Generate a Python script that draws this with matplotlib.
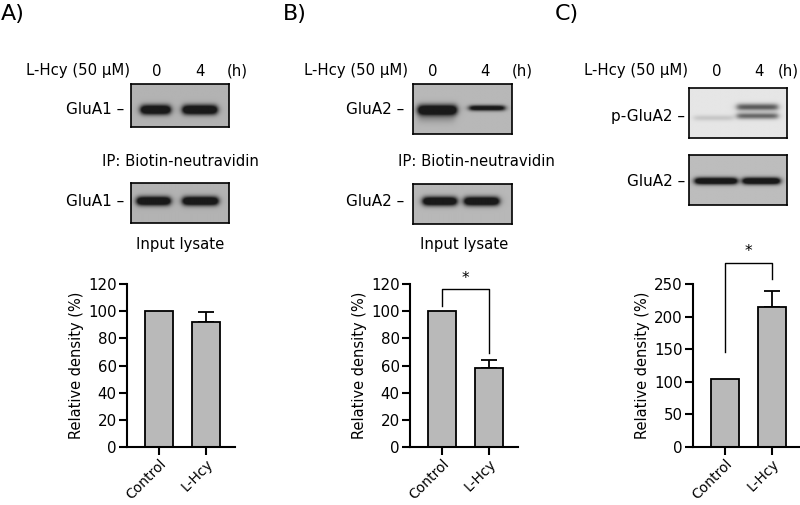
import numpy as np
import matplotlib
matplotlib.use("Agg")
import matplotlib.pyplot as plt

plt.rcParams['font.family'] = ['DejaVu Sans']

W, H = 800, 505

# ---------------- data ----------------
groups = ["Control", "L-Hcy"]
a_values = [100, 92]
a_errors = [0, 7.3]
b_values = [100, 58]
b_errors = [0, 6]
c_values = [104, 214]
c_errors = [0, 26]
a_yticks = [0, 20, 40, 60, 80, 100, 120]
b_yticks = [0, 20, 40, 60, 80, 100, 120]
c_yticks = [0, 50, 100, 150, 200, 250]
time_labels = ["0", "4"]
treat_label = "L-Hcy (50 μM)"

fig = plt.figure(figsize=(W / 100, H / 100), dpi=100)


def fx(x):
    return x / W


def fy(y):
    return 1 - y / H


def ftext(x, y, s, **kw):
    fig.text(fx(x), fy(y), s, **kw)


def blot(x0, y0, x1, y1, bg, bands):
    ax = fig.add_axes([fx(x0), fy(y1), (x1 - x0) / W, (y1 - y0) / H])
    ny, nx = 80, 160
    yy, xx = np.mgrid[0:1:ny * 1j, 0:1:nx * 1j]
    img = np.full((ny, nx), bg, dtype=float)
    for (a, b, yc, sy, d) in bands:
        edge = 0.035
        pxp = 0.5 * (np.tanh((xx - a) / edge) - np.tanh((xx - b) / edge))
        pyp = np.exp(-0.5 * ((yy - yc) / sy) ** 2)
        img = img - d * pxp * pyp
    img = np.clip(img, 0.1, 1)
    ax.imshow(img, cmap='gray', vmin=0, vmax=1, extent=(0, 1, 1, 0),
              aspect='auto', interpolation='bilinear')
    ax.set_xticks([])
    ax.set_yticks([])
    for s in ax.spines.values():
        s.set_linewidth(1.2)
    return ax


def header(xl, x0, x4, xh):
    ftext(xl, 71, treat_label, ha='right', va='center', fontsize=10.7)
    ftext(x0, 71, time_labels[0], ha='center', va='center', fontsize=10.7)
    ftext(x4, 71, time_labels[1], ha='center', va='center', fontsize=10.7)
    ftext(xh, 71, "(h)", ha='center', va='center', fontsize=10.7)


# panel letters
ftext(1, 14, "A)", ha='left', va='center', fontsize=16)
ftext(283, 14, "B)", ha='left', va='center', fontsize=16)
ftext(555, 14, "C)", ha='left', va='center', fontsize=16)

# ---------------- blots A ----------------
header(130, 157, 200, 237)
blot(131, 84, 229, 127, 0.70, [(0.10, 0.40, 0.60, 0.08, 1.0), (0.53, 0.88, 0.60, 0.08, 1.0)])
ftext(124, 110, "GluA1 –", ha='right', va='center', fontsize=11)
ftext(102, 161, "IP: Biotin-neutravidin", ha='left', va='center', fontsize=10.7)
blot(131, 183, 229, 223, 0.70, [(0.06, 0.40, 0.45, 0.08, 1.0), (0.53, 0.89, 0.45, 0.08, 1.0)])
ftext(124, 201, "GluA1 –", ha='right', va='center', fontsize=11)
ftext(180, 244, "Input lysate", ha='center', va='center', fontsize=10.7)

# ---------------- blots B ----------------
header(408, 433, 485, 522)
blot(413, 84, 512, 134, 0.72, [(0.05, 0.44, 0.52, 0.075, 1.0), (0.05, 0.42, 0.68, 0.08, 0.12),
                               (0.57, 0.93, 0.48, 0.04, 0.8)])
ftext(404, 110, "GluA2 –", ha='right', va='center', fontsize=11)
ftext(398, 161, "IP: Biotin-neutravidin", ha='left', va='center', fontsize=10.7)
blot(413, 184, 512, 224, 0.72, [(0.10, 0.44, 0.43, 0.08, 1.0), (0.52, 0.87, 0.43, 0.08, 1.0)])
ftext(404, 201, "GluA2 –", ha='right', va='center', fontsize=11)
ftext(464, 244, "Input lysate", ha='center', va='center', fontsize=10.7)

# ---------------- blots C ----------------
header(688, 717, 759, 788)
blot(689, 88, 787, 138, 0.90, [(0.49, 0.91, 0.38, 0.05, 0.55), (0.49, 0.91, 0.56, 0.045, 0.5),
                               (0.05, 0.45, 0.60, 0.04, 0.12)])
ftext(685, 117, "p-GluA2 –", ha='right', va='center', fontsize=11)
blot(689, 155, 787, 205, 0.74, [(0.06, 0.49, 0.52, 0.05, 1.0), (0.55, 0.93, 0.52, 0.05, 1.0)])
ftext(685, 182, "GluA2 –", ha='right', va='center', fontsize=11)


# ---------------- bar charts ----------------
def bar_panel(left_px, values, errors, yticks):
    ax = fig.add_axes([fx(left_px), fy(447), 108 / W, (447 - 284) / H])
    x = np.arange(len(groups))
    ax.bar(x, values, width=0.6, color='#b9b9b9', edgecolor='black', linewidth=1.3, zorder=2)
    idx = [i for i, e in enumerate(errors) if e > 0]
    ax.errorbar(x[idx], np.array(values)[idx],
                yerr=[np.zeros(len(idx)), np.array(errors)[idx]],
                fmt='none', ecolor='black', elinewidth=1.3, capsize=6, capthick=1.3, zorder=1)
    ax.set_xlim(-0.68, 1.62)
    ax.set_ylim(yticks[0], yticks[-1])
    ax.set_yticks(yticks)
    ax.set_xticks(x)
    ax.set_xticklabels(groups, rotation=45, ha='right', rotation_mode='anchor', fontsize=10)
    ax.tick_params(axis='both', direction='out', width=1.5, length=6, labelsize=10.8, pad=1.5)
    ax.tick_params(axis='x', pad=1, labelsize=10)
    ax.spines['top'].set_visible(False)
    ax.spines['right'].set_visible(False)
    ax.spines['left'].set_linewidth(1.5)
    ax.spines['bottom'].set_linewidth(1.5)
    ax.set_ylabel("Relative density (%)", fontsize=10.5, labelpad=3)
    return ax


axA = bar_panel(127, a_values, a_errors, a_yticks)
axB = bar_panel(410, b_values, b_errors, b_yticks)
axC = bar_panel(693, c_values, c_errors, c_yticks)

# significance brackets
axB.plot([0, 0, 1, 1], [104, 116.6, 116.6, 69], color='black', lw=1, clip_on=False)
axB.text(0.5, 124, "*", ha='center', va='center', fontsize=11, clip_on=False)
axC.plot([0, 0, 1, 1], [145, 282, 282, 257], color='black', lw=1, clip_on=False)
axC.text(0.5, 300, "*", ha='center', va='center', fontsize=11, clip_on=False)

fig.savefig("out.png", dpi=100)
